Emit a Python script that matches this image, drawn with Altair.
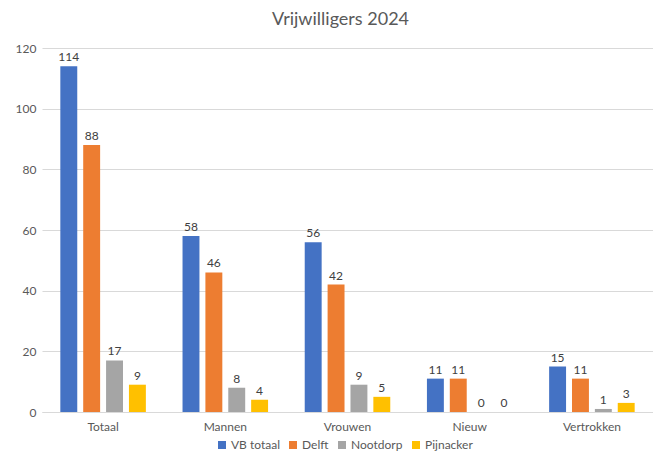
import altair as alt
import pandas as pd

categories = ["Totaal", "Mannen", "Vrouwen", "Nieuw", "Vertrokken"]
series = ["VB totaal", "Delft", "Nootdorp", "Pijnacker"]
vb_totaal = [114, 58, 56, 11, 15]
delft = [88, 46, 42, 11, 11]
nootdorp = [17, 8, 9, 0, 1]
pijnacker = [9, 4, 5, 0, 3]
colors = ["#4472C4", "#ED7D31", "#A5A5A5", "#FFC000"]
y_ticks = [0, 20, 40, 60, 80, 100, 120]

rows = []
for s, vals in zip(series, [vb_totaal, delft, nootdorp, pijnacker]):
    for c, v in zip(categories, vals):
        rows.append({"categorie": c, "reeks": s, "waarde": v})
df = pd.DataFrame(rows)

FONT = "Lato"

x = alt.X(
    "categorie:N",
    sort=categories,
    scale=alt.Scale(paddingInner=0.3, paddingOuter=0.15),
    axis=alt.Axis(
        title=None, labelAngle=0, ticks=False, domain=True,
        domainColor="#D9D9D9", labelColor="#595959", labelFontSize=12,
        labelFont=FONT, labelPadding=9,
    ),
)
xoff = alt.XOffset("reeks:N", sort=series, scale=alt.Scale(paddingInner=0.26, paddingOuter=0))
y = alt.Y(
    "waarde:Q",
    scale=alt.Scale(domain=[0, 120], nice=False),
    axis=alt.Axis(
        title=None, values=y_ticks, ticks=False, domain=False,
        gridColor="#D9D9D9", labelColor="#595959", labelFontSize=12,
        labelFont=FONT, labelPadding=6,
    ),
)
color = alt.Color(
    "reeks:N",
    sort=series,
    scale=alt.Scale(domain=series, range=colors),
    legend=alt.Legend(
        title=None, orient="none", direction="horizontal",
        legendX=174, legendY=391, symbolType="square", symbolSize=64,
        symbolStrokeWidth=0, labelFontSize=12, labelColor="#595959",
        labelFont=FONT, columnPadding=7, symbolOffset=0, labelOffset=3,
        padding=0,
    ),
)

base = alt.Chart(df).encode(x=x, xOffset=xoff, y=y)
bars = base.mark_bar().encode(color=color)
labels = base.mark_text(dy=-9, fontSize=12, color="#404040", font=FONT).encode(text="waarde:Q")

chart = (bars + labels).properties(
    width=611,
    height=364,
    title=alt.TitleParams(
        "Vrijwilligers 2024", fontSize=18, font=FONT, fontWeight="normal",
        color="#595959", anchor="middle", offset=13, dx=-7,
    ),
    autosize=alt.AutoSizeParams(type="none"),
    padding={"left": 34, "top": 40, "right": 0, "bottom": 42},
).configure_view(stroke=None)

chart.save("out.html", embed_options={"renderer": "svg", "actions": False})
